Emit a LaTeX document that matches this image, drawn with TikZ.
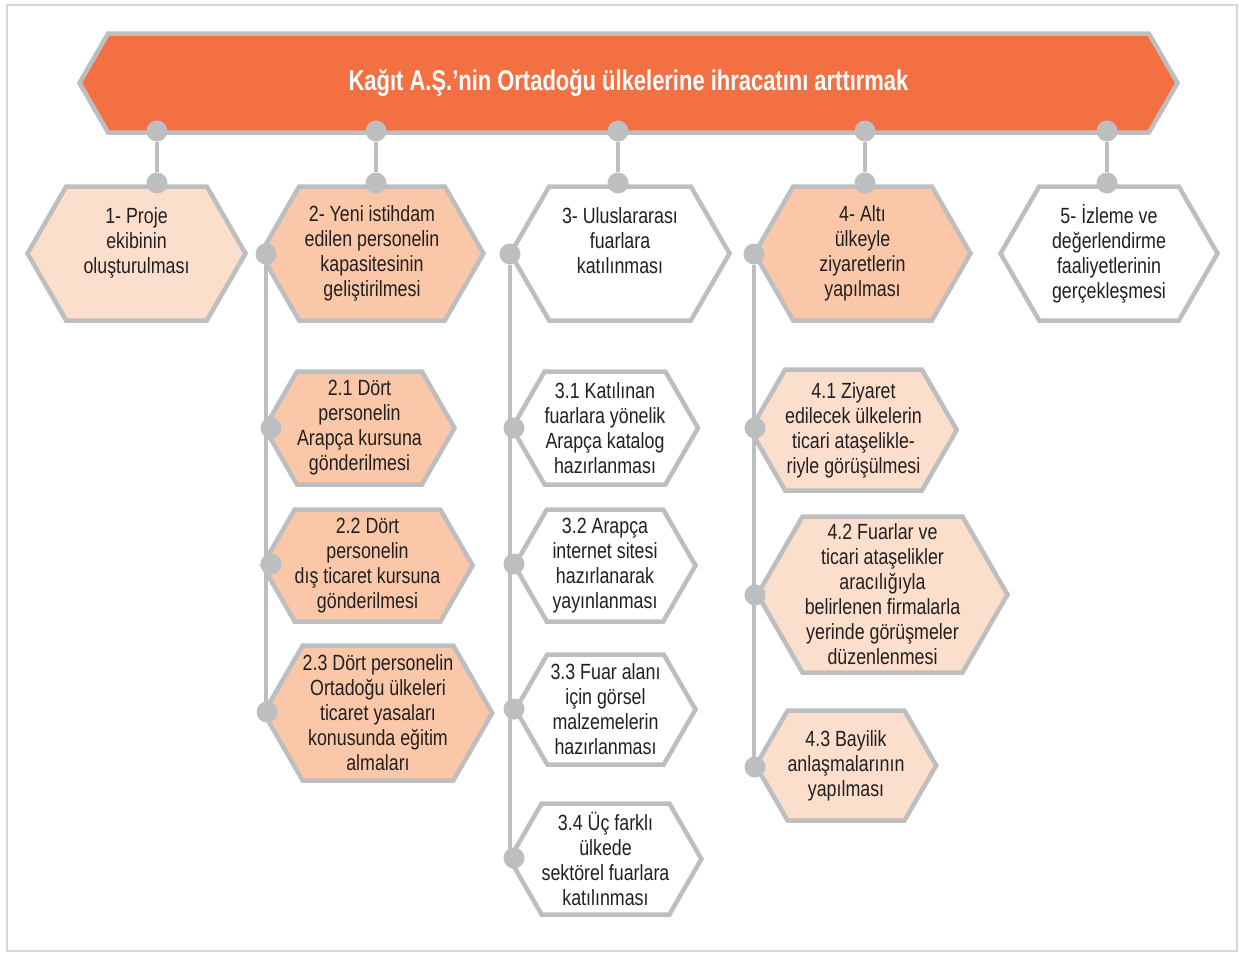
\documentclass[tikz,border=0pt]{standalone}
\usepackage{fontspec}
\setmainfont{Liberation Sans}[FakeStretch=0.81]
\newfontfamily\titlefont{Liberation Sans}[FakeStretch=0.77]
\usepackage{tikz}
\usetikzlibrary{shapes.symbols}
\definecolor{bannerorange}{RGB}{242,112,66}
\definecolor{peachdark}{RGB}{250,200,168}
\definecolor{peachlight}{RGB}{252,222,204}
\definecolor{linegray}{RGB}{188,190,192}
\definecolor{framegray}{RGB}{214,214,214}
\definecolor{inkgray}{RGB}{35,31,32}
\tikzset{
  hexa/.style={shape=signal, signal to=east and west, signal pointer angle=120,
    draw=linegray, line width=4.5pt, align=center, text=inkgray, inner sep=0pt,
    font=\fontsize{22}{25}\selectfont},
  hexdark/.style={hexa, fill=peachdark},
  hexlight/.style={hexa, fill=peachlight},
  hexwhite/.style={hexa, fill=white},
  dot/.style={circle, fill=linegray, inner sep=0pt, minimum size=21pt},
  link/.style={draw=linegray, line width=4pt}
}

\begin{document}
\begin{tikzpicture}[x=1pt, y=-1pt]

\useasboundingbox (0,0) rectangle (1239,954);
\draw[framegray, line width=2pt] (7,5) rectangle (1237,951);

\node[hexa, fill=bannerorange, text=white, minimum width=1098, minimum height=99,
  font=\titlefont\bfseries\fontsize{28.5}{30}\selectfont] (goal) at (628.5,83)
  {Kağıt A.Ş.’nin Ortadoğu ülkelerine ihracatını arttırmak};

\node[hexlight, minimum width=218, minimum height=134] (h1) at (136.5,253.5) {1- Proje\\ekibinin\\oluşturulması\\\mbox{}};
\node[hexdark, minimum width=223, minimum height=134] (h2) at (372,253.5) {2- Yeni istihdam\\edilen personelin\\kapasitesinin\\geliştirilmesi};
\node[hexwhite, minimum width=219, minimum height=134] (h3) at (620,253.5) {3- Uluslararası\\fuarlara\\katılınması\\\mbox{}};
\node[hexdark, minimum width=216, minimum height=134] (h4) at (862.5,253.5) {4- Altı\\ülkeyle\\ziyaretlerin\\yapılması};
\node[hexwhite, minimum width=217, minimum height=134] (h5) at (1109,253.5) {5- İzleme ve\\değerlendirme\\faaliyetlerinin\\gerçekleşmesi};

\node[hexdark, minimum width=178, minimum height=113] (h21) at (359.5,428) {2.1 Dört\\personelin\\Arapça kursuna\\gönderilmesi};
\node[hexdark, minimum width=180, minimum height=112] (h22) at (367.5,565.5) {2.2 Dört\\personelin\\dış ticaret kursuna\\gönderilmesi};
\node[hexdark, minimum width=219, minimum height=135] (h23) at (378,713) {2.3 Dört personelin\\Ortadoğu ülkeleri\\ticaret yasaları\\konusunda eğitim\\almaları};

\node[hexwhite, minimum width=181, minimum height=113] (h31) at (605,428) {3.1 Katılınan\\fuarlara yönelik\\Arapça katalog\\hazırlanması};
\node[hexwhite, minimum width=181, minimum height=112] (h32) at (605,565.5) {3.2 Arapça\\internet sitesi\\hazırlanarak\\yayınlanması};
\node[hexwhite, minimum width=180, minimum height=110] (h33) at (605.5,709.5) {3.3 Fuar alanı\\için görsel\\malzemelerin\\hazırlanması};
\node[hexwhite, minimum width=180, minimum height=111] (h34) at (605.5,859) {3.4 Üç farklı\\ülkede\\sektörel fuarlara\\katılınması};

\node[hexlight, minimum width=192, minimum height=121] (h41) at (853.5,430) {4.1 Ziyaret\\edilecek ülkelerin\\ticari ataşelikle-\\riyle görüşülmesi};
\node[hexlight, minimum width=250, minimum height=156] (h42) at (882.5,594.5) {4.2 Fuarlar ve\\ticari ataşelikler\\aracılığıyla\\belirlenen firmalarla\\yerinde görüşmeler\\düzenlenmesi};
\node[hexlight, minimum width=177, minimum height=110] (h43) at (846,765.5) {4.3 Bayilik\\anlaşmalarının\\yapılması};

\foreach \n/\x in {1/157, 2/376, 3/618, 4/865, 5/1107}{
  \node[dot] (g\n) at (\x,131) {};
  \node[dot] (k\n) at (\x,183) {};
  \draw[link] (g\n) -- (k\n);
}

\node[dot] (a0) at (266,254) {};
\node[dot] (a1) at (271,428) {};
\node[dot] (a2) at (271,564) {};
\node[dot] (a3) at (267,712) {};
\node[dot] (b0) at (510,254) {};
\node[dot] (b1) at (514,428) {};
\node[dot] (b2) at (514,564) {};
\node[dot] (b3) at (514,709) {};
\node[dot] (b4) at (514,858) {};
\node[dot] (c0) at (754,254) {};
\node[dot] (c1) at (755,428) {};
\node[dot] (c2) at (755,595) {};
\node[dot] (c3) at (755,767) {};

\foreach \i/\j in {a0/a3, b0/b4, c0/c3}
\draw[link] (\i) -- (\i |- \j);

\end{tikzpicture}
\end{document}
